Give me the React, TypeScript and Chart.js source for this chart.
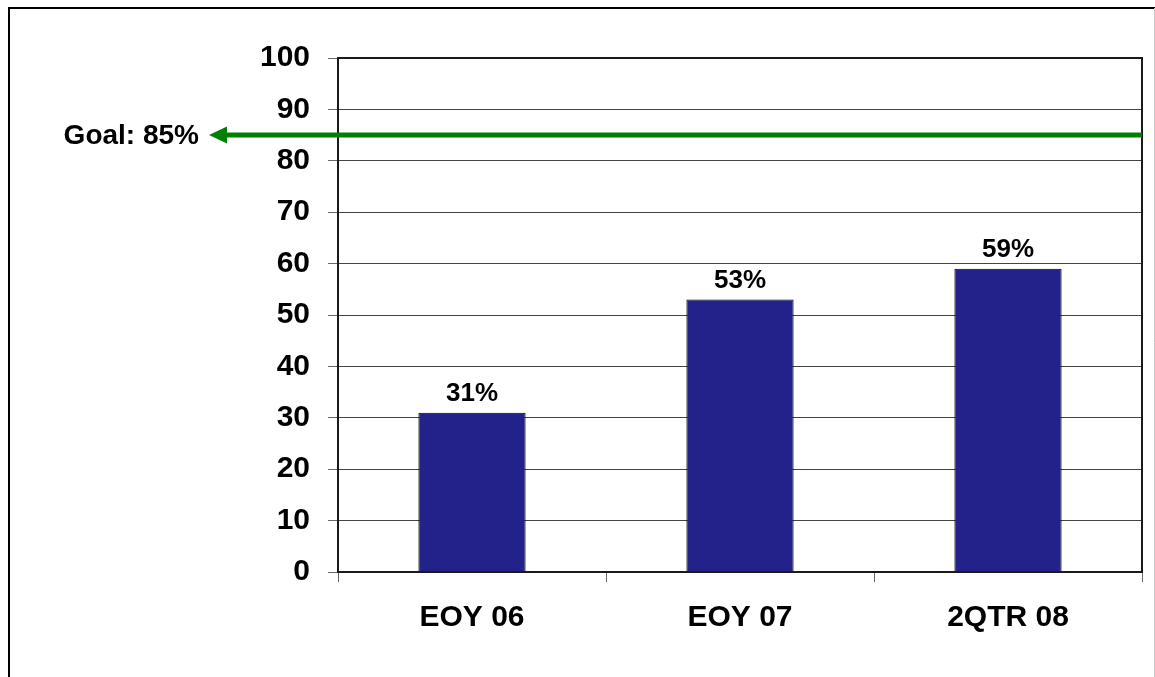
import React, { useEffect, useRef } from "react";
import { Chart, registerables } from "chart.js";

Chart.register(...registerables);

const categories = ["EOY 06", "EOY 07", "2QTR 08"];
const values = [31, 53, 59];
const valueLabels = ["31%", "53%", "59%"];
const goalValue = 85;
const goalLabel = "Goal: 85%";
const yMin = 0;
const yMax = 100;
const yStep = 10;

const FONT = "'Liberation Sans', Arial, sans-serif";

const decorPlugin = {
  id: "decor",
  afterDraw(chart: any) {
    const { ctx, chartArea, scales } = chart;
    const ys = scales.y;
    ctx.save();
    // outer frame
    ctx.strokeStyle = "#000";
    ctx.lineWidth = 2;
    ctx.beginPath();
    ctx.moveTo(9, 677);
    ctx.lineTo(9, 8);
    ctx.lineTo(1155, 8);
    ctx.stroke();
    ctx.strokeStyle = "#c8c8c8";
    ctx.lineWidth = 1;
    ctx.beginPath();
    ctx.moveTo(1154.5, 8);
    ctx.lineTo(1154.5, 677);
    ctx.stroke();

    // plot frame
    ctx.strokeStyle = "#1a1a1a";
    ctx.lineWidth = 2;
    ctx.strokeRect(chartArea.left, chartArea.top, chartArea.right - chartArea.left, chartArea.bottom - chartArea.top);

    // value labels
    const meta = chart.getDatasetMeta(0);
    ctx.fillStyle = "#000";
    ctx.font = `bold 26px ${FONT}`;
    ctx.textAlign = "center";
    ctx.textBaseline = "alphabetic";
    meta.data.forEach((bar: any, i: number) => {
      ctx.fillText(valueLabels[i], bar.x, bar.y - 12);
    });

    // goal line with arrow
    const gy = ys.getPixelForValue(goalValue);
    const tipX = 209;
    const baseX = 227;
    ctx.strokeStyle = "#008000";
    ctx.fillStyle = "#008000";
    ctx.lineWidth = 5;
    ctx.beginPath();
    ctx.moveTo(chartArea.right, gy);
    ctx.lineTo(baseX - 2, gy);
    ctx.stroke();
    ctx.beginPath();
    ctx.moveTo(tipX, gy);
    ctx.lineTo(baseX, gy - 8.5);
    ctx.lineTo(baseX, gy + 8.5);
    ctx.closePath();
    ctx.fill();

    ctx.fillStyle = "#000";
    ctx.font = `bold 28px ${FONT}`;
    ctx.textAlign = "right";
    ctx.textBaseline = "middle";
    ctx.fillText(goalLabel, 199, gy + 1);
    ctx.restore();
  },
};

export default function App() {
  const ref = useRef<HTMLCanvasElement | null>(null);
  useEffect(() => {
    if (!ref.current) return;
    const chart = new Chart(ref.current, {
      type: "bar",
      data: {
        labels: categories,
        datasets: [
          {
            data: values,
            backgroundColor: "#22228a",
            borderColor: "#000",
            borderWidth: 1,
            barPercentage: 0.4,
            categoryPercentage: 1,
          },
        ],
      },
      options: {
        responsive: false,
        animation: false,
        layout: { padding: { top: 58, right: 13, bottom: 23, left: 0 } },
        plugins: {
          legend: { display: false },
          tooltip: { enabled: false },
        },
        scales: {
          x: {
            offset: true,
            grid: {
              offset: true,
              drawOnChartArea: false,
              drawTicks: true,
              tickLength: 10,
              tickColor: "#666",
            },
            border: { display: false },
            ticks: {
              color: "#000",
              padding: 18,
              font: { family: FONT, size: 30, weight: "bold" },
            },
          },
          y: {
            min: yMin,
            max: yMax,
            afterFit: (s: any) => {
              s.width = 338;
            },
            grid: {
              color: "#444",
              lineWidth: 1,
              tickLength: 10,
              tickColor: "#666",
            },
            border: { display: false },
            ticks: {
              stepSize: yStep,
              color: "#000",
              padding: 18,
              font: { family: FONT, size: 30, weight: "bold" },
            },
          },
        },
      },
      plugins: [decorPlugin],
    });
    return () => chart.destroy();
  }, []);
  return (
    <div style={{ position: "fixed", left: 0, top: 0, width: 1155, height: 677, background: "#fff" }}>
      <canvas ref={ref} width={1155} height={677} />
    </div>
  );
}
